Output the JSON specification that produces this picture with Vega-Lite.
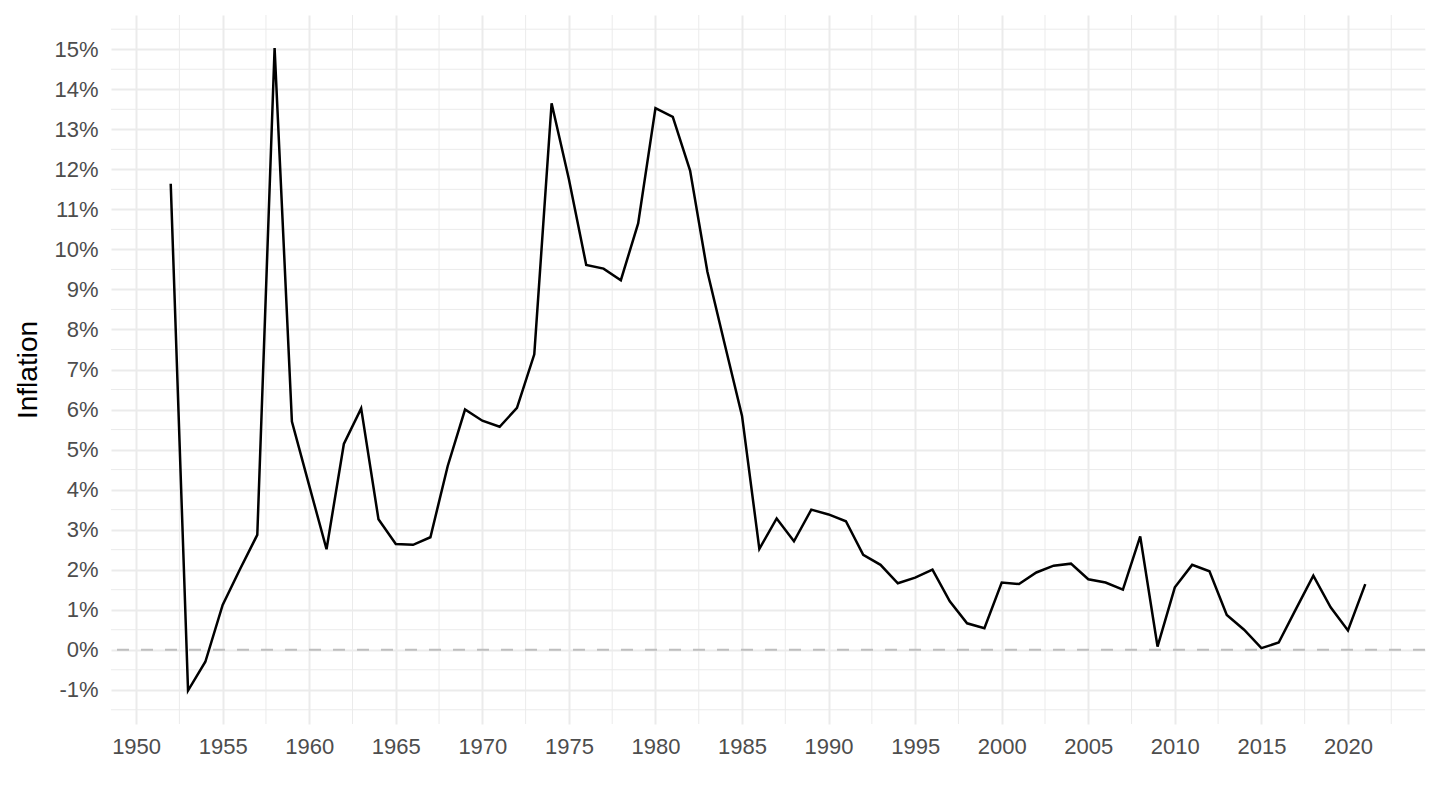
{
  "$schema": "https://vega.github.io/schema/vega-lite/v6.json",
  "width": 1314,
  "height": 709,
  "autosize": {"type": "none"},
  "padding": {"left": 111, "top": 15, "right": 15, "bottom": 86},
  "background": "white",
  "config": {
    "view": {"stroke": null},
    "font": "Liberation Sans",
    "axisX": {
      "grid": true, "gridColor": "#EBEBEB", "gridWidth": 2,
      "ticks": false, "domain": false,
      "labelFontSize": 22, "labelColor": "#4D4D4D", "labelPadding": 12,
      "labelFont": "Liberation Sans"
    },
    "axisY": {
      "grid": true, "gridColor": "#EBEBEB", "gridWidth": 2,
      "ticks": false, "domain": false,
      "labelFontSize": 22, "labelColor": "#4D4D4D", "labelPadding": 13,
      "labelFont": "Liberation Sans",
      "titleFontSize": 28, "titleFontWeight": "normal", "titleColor": "black",
      "titleFont": "Liberation Sans", "titlePadding": 11
    }
  },
  "datasets": {
    "inflation": [
      {"year": 1952, "value": 11.64}, {"year": 1953, "value": -1.02}, {"year": 1954, "value": -0.30},
      {"year": 1955, "value": 1.12}, {"year": 1956, "value": 2.01}, {"year": 1957, "value": 2.87},
      {"year": 1958, "value": 15.03}, {"year": 1959, "value": 5.70}, {"year": 1960, "value": 4.10},
      {"year": 1961, "value": 2.51}, {"year": 1962, "value": 5.14}, {"year": 1963, "value": 6.03},
      {"year": 1964, "value": 3.26}, {"year": 1965, "value": 2.64}, {"year": 1966, "value": 2.62},
      {"year": 1967, "value": 2.81}, {"year": 1968, "value": 4.59}, {"year": 1969, "value": 6.00},
      {"year": 1970, "value": 5.72}, {"year": 1971, "value": 5.57}, {"year": 1972, "value": 6.04},
      {"year": 1973, "value": 7.38}, {"year": 1974, "value": 13.65}, {"year": 1975, "value": 11.75},
      {"year": 1976, "value": 9.61}, {"year": 1977, "value": 9.52}, {"year": 1978, "value": 9.23},
      {"year": 1979, "value": 10.65}, {"year": 1980, "value": 13.53}, {"year": 1981, "value": 13.31},
      {"year": 1982, "value": 11.97}, {"year": 1983, "value": 9.44}, {"year": 1984, "value": 7.63},
      {"year": 1985, "value": 5.84}, {"year": 1986, "value": 2.52}, {"year": 1987, "value": 3.28},
      {"year": 1988, "value": 2.71}, {"year": 1989, "value": 3.50}, {"year": 1990, "value": 3.38},
      {"year": 1991, "value": 3.21}, {"year": 1992, "value": 2.37}, {"year": 1993, "value": 2.12},
      {"year": 1994, "value": 1.66}, {"year": 1995, "value": 1.80}, {"year": 1996, "value": 2.00},
      {"year": 1997, "value": 1.21}, {"year": 1998, "value": 0.66}, {"year": 1999, "value": 0.54},
      {"year": 2000, "value": 1.68}, {"year": 2001, "value": 1.64}, {"year": 2002, "value": 1.93},
      {"year": 2003, "value": 2.10}, {"year": 2004, "value": 2.15}, {"year": 2005, "value": 1.76},
      {"year": 2006, "value": 1.68}, {"year": 2007, "value": 1.50}, {"year": 2008, "value": 2.83},
      {"year": 2009, "value": 0.08}, {"year": 2010, "value": 1.56}, {"year": 2011, "value": 2.12},
      {"year": 2012, "value": 1.96}, {"year": 2013, "value": 0.87}, {"year": 2014, "value": 0.50},
      {"year": 2015, "value": 0.04}, {"year": 2016, "value": 0.18}, {"year": 2017, "value": 1.02},
      {"year": 2018, "value": 1.85}, {"year": 2019, "value": 1.06}, {"year": 2020, "value": 0.48},
      {"year": 2021, "value": 1.64}
    ],
    "ygrid": [
      {"v": -1.5}, {"v": -0.5}, {"v": 0.5}, {"v": 1.5}, {"v": 2.5}, {"v": 3.5}, {"v": 4.5},
      {"v": 5.5}, {"v": 6.5}, {"v": 7.5}, {"v": 8.5}, {"v": 9.5}, {"v": 10.5}, {"v": 11.5},
      {"v": 12.5}, {"v": 13.5}, {"v": 14.5}, {"v": 15.5}
    ],
    "xgrid": [
      {"v": 1952.5}, {"v": 1957.5}, {"v": 1962.5}, {"v": 1967.5}, {"v": 1972.5}, {"v": 1977.5},
      {"v": 1982.5}, {"v": 1987.5}, {"v": 1992.5}, {"v": 1997.5}, {"v": 2002.5}, {"v": 2007.5},
      {"v": 2012.5}, {"v": 2017.5}, {"v": 2022.5}
    ],
    "zero": [{"v": 0}]
  },
  "layer": [
    {
      "data": {"name": "ygrid"},
      "mark": {"type": "rule", "color": "#EBEBEB", "strokeWidth": 1},
      "encoding": {
        "y": {
          "field": "v", "type": "quantitative",
          "scale": {"domain": [-1.855, 15.855], "nice": false, "zero": false},
          "axis": {"title": "Inflation", "values": [-1, 0, 1, 2, 3, 4, 5, 6, 7, 8, 9, 10, 11, 12, 13, 14, 15], "labelExpr": "datum.value + '%'"}
        }
      }
    },
    {
      "data": {"name": "xgrid"},
      "mark": {"type": "rule", "color": "#EBEBEB", "strokeWidth": 1},
      "encoding": {
        "x": {
          "field": "v", "type": "quantitative",
          "scale": {"domain": [1948.55, 2024.45], "nice": false, "zero": false},
          "axis": {"title": null, "values": [1950, 1955, 1960, 1965, 1970, 1975, 1980, 1985, 1990, 1995, 2000, 2005, 2010, 2015, 2020], "format": "d"}
        }
      }
    },
    {
      "data": {"name": "zero"},
      "mark": {"type": "rule", "color": "#BEBEBE", "strokeWidth": 2, "strokeDash": [12, 12]},
      "encoding": {
        "y": {
          "field": "v", "type": "quantitative",
          "axis": {"title": "Inflation", "values": [-1, 0, 1, 2, 3, 4, 5, 6, 7, 8, 9, 10, 11, 12, 13, 14, 15], "labelExpr": "datum.value + '%'"}
        }
      }
    },
    {
      "data": {"name": "inflation"},
      "mark": {"type": "line", "color": "black", "strokeWidth": 2.5},
      "encoding": {
        "x": {
          "field": "year", "type": "quantitative",
          "scale": {"domain": [1948.55, 2024.45], "nice": false, "zero": false},
          "axis": {"title": null, "values": [1950, 1955, 1960, 1965, 1970, 1975, 1980, 1985, 1990, 1995, 2000, 2005, 2010, 2015, 2020], "format": "d"}
        },
        "y": {
          "field": "value", "type": "quantitative",
          "scale": {"domain": [-1.855, 15.855], "nice": false, "zero": false},
          "axis": {"title": "Inflation", "values": [-1, 0, 1, 2, 3, 4, 5, 6, 7, 8, 9, 10, 11, 12, 13, 14, 15], "labelExpr": "datum.value + '%'"}
        }
      }
    }
  ]
}
